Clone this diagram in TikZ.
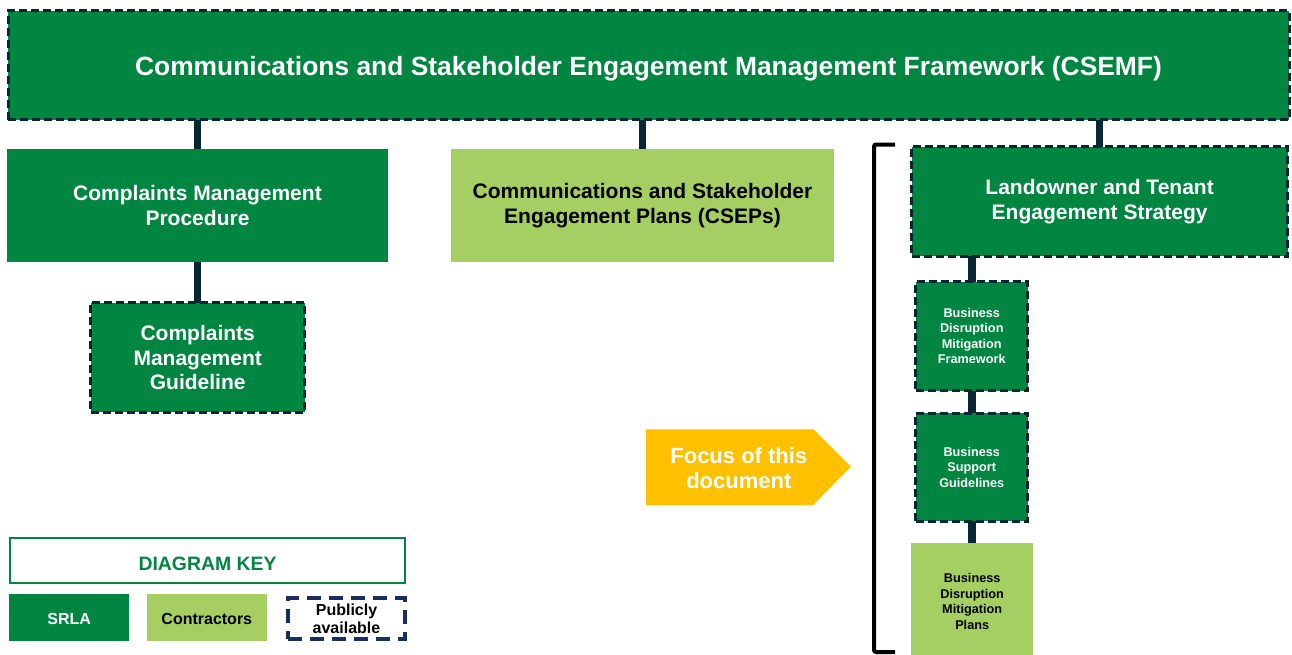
\documentclass[tikz,border=0pt]{standalone}
\usepackage{fontspec}
\setmainfont{Liberation Sans}
\usetikzlibrary{backgrounds}
\definecolor{srlagreen}{RGB}{0,134,64}
\definecolor{contrgreen}{RGB}{166,207,99}
\definecolor{linknavy}{RGB}{8,38,52}
\definecolor{pubnavy}{RGB}{24,45,96}
\definecolor{focusyellow}{RGB}{255,192,0}
\tikzset{
  box/.style={rectangle, inner sep=0pt, outer sep=0pt, align=center, font=\bfseries},
  srla/.style={box, fill=srlagreen, text=white},
  contr/.style={box, fill=contrgreen, text=black},
  public/.style={draw=linknavy, line width=3pt, dash pattern=on 8pt off 4pt},
  conn/.style={draw=linknavy, line width=7.5pt},
  big/.style={font=\fontsize{21}{24.5}\selectfont\bfseries},
  small/.style={font=\fontsize{12.7}{15.5}\selectfont\bfseries},
  keytext/.style={font=\fontsize{16}{18}\selectfont\bfseries},
}
\begin{document}
\begin{tikzpicture}[x=1pt, y=-1pt]
\useasboundingbox (0,0) rectangle (1292,654);

% framework at the top
\node[srla, public, minimum width=1281pt, minimum height=108.8pt,
      text height=20.8pt, text depth=0pt,
      font=\fontsize{26.4}{30}\selectfont\bfseries] (csemf) at (648.5,65.1)
  {Communications and Stakeholder Engagement Management Framework (CSEMF)};

% second level
\node[srla, big, minimum width=381pt, minimum height=113pt] (cmp) at (197.5,205.5)
  {Complaints Management\\Procedure};
\node[contr, big, minimum width=383pt, minimum height=113pt] (csep) at (642.5,205.5)
  {Communications and Stakeholder\\Engagement Plans (CSEPs)};
\node[srla, public, big, minimum width=375.8pt, minimum height=109.8pt] (ltes) at (1099.6,201.4)
  {Landowner and Tenant\\Engagement Strategy};

% complaints guideline
\node[srla, public, big, minimum width=214pt, minimum height=109.5pt] (cmg) at (197.7,357.5)
  {Complaints\\Management\\Guideline};

% business documents
\node[srla, public, small, minimum width=112pt, minimum height=108.8pt] (bdmf) at (971.75,336.1)
  {Business\\Disruption\\Mitigation\\Framework};
\node[srla, public, small, minimum width=112pt, minimum height=108pt] (bsg) at (971.75,467.3)
  {Business\\Support\\Guidelines};
\node[contr, small, minimum width=122.3pt, minimum height=116.7pt] (bdmp) at (972.2,601.65)
  {Business\\Disruption\\Mitigation\\Plans};

% connectors
\begin{scope}[on background layer]
  \draw[conn] (csemf.south -| cmp.north) -- (cmp.north);
  \draw[conn] (csemf.south -| csep.north) -- (csep.north);
  \draw[conn] (csemf.south -| ltes.north) -- (ltes.north);
  \draw[conn] (cmp.south) -- (cmg.north -| cmp.south);
  \draw[conn] (ltes.south -| bdmf.north) -- (bdmf.north);
  \draw[conn] (bdmf.south) -- (bsg.north);
  \draw[conn] (bsg.south) -- (bdmp.north -| bsg.south);
\end{scope}

% bracket grouping the strategy documents
\coordinate (brtop) at (895,144.5);
\coordinate (brbot) at (895,652);
\draw[black, line width=4pt, rounded corners=2pt]
  (brtop) -- (874,144.5) -- (874,652) -- (brbot);

% focus marker
\fill[focusyellow] (646,429.3) -- (813.3,429.3) -- (850.7,466.7) -- (813.3,505) -- (646,505) -- cycle;
\node[box, text=white, font=\fontsize{22}{25.5}\selectfont\bfseries] (focus) at (738.8,468)
  {Focus of this\\document};

% diagram key
\node[box, draw=srlagreen, line width=2pt, fill=white, text=srlagreen,
      text height=18.8pt, text depth=0pt,
      font=\fontsize{19.4}{22}\selectfont\bfseries,
      minimum width=395pt, minimum height=45pt] (keyhead) at (207.5,560.8) {DIAGRAM KEY};
\node[srla, keytext, text height=14.8pt, text depth=0pt,
      minimum width=119.7pt, minimum height=46.7pt] (keysrla) at (69.2,617.3) {SRLA};
\node[contr, keytext, text height=14.8pt, text depth=0pt,
      minimum width=119.7pt, minimum height=46.7pt] (keycontr) at (206.8,617.3) {Contractors};
\node[box, keytext, draw=pubnavy, line width=4pt, dash pattern=on 14pt off 8pt,
      minimum width=117pt, minimum height=40.7pt] (keypub) at (346.5,618.3) {Publicly\\available};
\end{tikzpicture}
\end{document}
